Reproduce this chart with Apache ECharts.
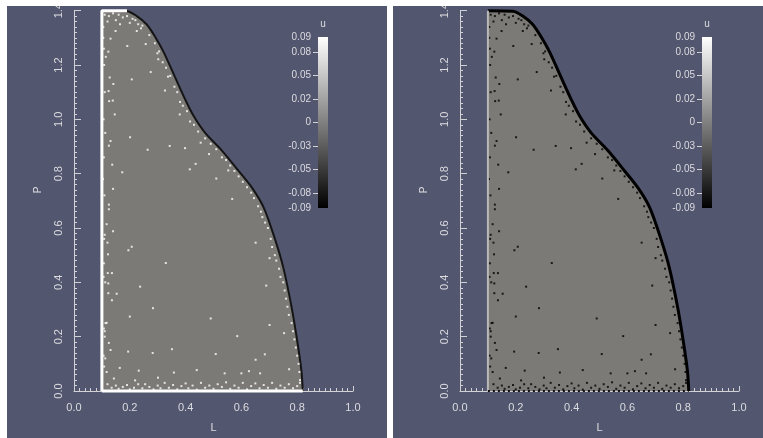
<!DOCTYPE html>
<html>
<head>
<meta charset="utf-8">
<script src="https://cdn.jsdelivr.net/npm/echarts@6/dist/echarts.min.js"></script>
<style>
  html, body { margin:0; padding:0; background:#ffffff; }
  #wrap { position:relative; width:763px; height:438px; overflow:hidden; }
  .bg { position:absolute; background:#52566f; }
  #chart { position:absolute; left:0; top:0; width:763px; height:438px; }
  #topstrip { position:absolute; left:0; top:0; width:763px; height:6px; background:#ffffff; z-index:5; }
</style>
</head>
<body>
<div id="wrap">
  <div class="bg" style="left:7px;top:6px;width:380px;height:432px;"></div>
  <div class="bg" style="left:393px;top:6px;width:370px;height:432px;"></div>
  <div id="chart"></div>
  <div id="topstrip"></div>
</div>
<script>
// Boundary of the domain (L, P)
const boundaryL = [0.1, 0.19, 0.225, 0.26, 0.29, 0.32, 0.36, 0.40, 0.43, 0.47, 0.53, 0.59, 0.64, 0.68, 0.72, 0.75, 0.78, 0.80, 0.815, 0.82];
const boundaryP = [1.4, 1.398, 1.38, 1.35, 1.305, 1.25, 1.16, 1.07, 1.01, 0.95, 0.885, 0.81, 0.745, 0.675, 0.56, 0.455, 0.308, 0.185, 0.075, 0];

// Scattered particles (L, P)
const dotsL = [
  0.149,0.131,0.225,0.191,0.257,0.123,0.299,0.302,0.275,0.207,0.128,0.141,0.337,0.326,0.124,0.126,0.139,0.146,0.380,0.379,0.416,0.201,0.131,0.125,0.264,0.343,0.398,0.415,0.137,0.173,0.140,
  0.11,0.125,0.14,0.16,0.175,0.19,0.21,0.12,0.15,0.2,0.23,0.24,0.165,
  0.105,0.108,0.11,0.106,0.112,0.107,0.104,0.109,0.117,0.11,0.108,0.107,0.106,0.112,0.113,0.107,0.11,0.11,0.106,0.112,0.108,0.117,0.105,0.107,0.114,
  0.22,0.245,0.27,0.29,0.305,0.318,0.33,0.345,0.36,0.37,0.39,0.405,0.43,0.445,0.47,0.49,0.51,0.53,0.545,0.56,0.575,0.59,0.605,0.62,0.635,0.645,0.66,0.67,0.675,0.685,0.695,0.705,0.71,0.72,0.725,0.735,0.74,0.75,0.755,0.76,0.765,0.77,0.78,0.785,0.79,0.795,0.8,0.805,0.808,0.81,
  0.454,0.484,0.436,0.51,0.553,0.567,0.651,0.701,0.689,0.49,0.701,0.585,0.753,0.508,0.684,0.651,0.44,0.627,0.6,0.54,0.667,0.771,
  0.125,0.125,0.14,0.12,0.207,0.195,0.122,0.329,0.121,0.136,0.123,0.237,0.153,0.123,0.136,0.283,0.2,0.117,0.125,0.131,0.194,0.282,0.351,0.164,0.232,0.358,0.301,0.143,0.219,
  0.12,0.135,0.15,0.16,0.175,0.19,0.2,0.215,0.23,0.245,0.255,0.27,0.285,0.3,0.31,0.325,0.34,0.355,0.37,0.385,0.4,0.41,0.425,0.44,0.455,0.47,0.485,0.5,0.515,0.53,0.545,0.56,0.575,0.59,0.605,0.62,0.635,0.65,0.665,0.68,0.695,0.71,0.725,0.74,0.755,0.77,0.785,0.8,0.81
];
const dotsP = [
  1.325,1.297,1.325,1.270,1.277,1.249,1.243,1.221,1.174,1.147,1.154,1.130,1.157,1.106,1.104,1.067,1.069,1.018,1.064,1.018,0.992,0.934,0.920,0.903,0.888,0.902,0.894,0.816,0.833,0.805,0.744,
  1.385,1.38,1.39,1.385,1.375,1.38,1.37,1.36,1.365,1.355,1.35,1.335,1.35,
  1.3,1.2,1.1,1.0,0.95,0.86,0.78,0.72,0.614,0.575,0.56,0.47,0.42,0.4,0.25,0.23,0.22,0.2,0.13,0.12,0.09,0.07,1.34,1.26,1.23,
  1.365,1.345,1.31,1.28,1.25,1.21,1.19,1.16,1.12,1.1,1.05,1.03,0.98,0.955,0.93,0.91,0.89,0.86,0.85,0.83,0.81,0.79,0.77,0.75,0.73,0.71,0.68,0.66,0.64,0.62,0.6,0.56,0.53,0.5,0.48,0.45,0.42,0.4,0.37,0.34,0.31,0.28,0.25,0.22,0.19,0.16,0.13,0.1,0.07,0.04,
  0.914,0.872,0.836,0.782,0.812,0.707,0.546,0.489,0.388,0.267,0.243,0.202,0.213,0.136,0.135,0.115,0.077,0.073,0.065,0.065,0.065,0.08,
  0.686,0.669,0.588,0.546,0.531,0.518,0.503,0.471,0.434,0.434,0.396,0.384,0.358,0.36,0.334,0.305,0.274,0.251,0.177,0.151,0.145,0.14,0.154,0.085,0.075,0.068,0.049,0.046,0.039,
  0.025,0.012,0.02,0.008,0.015,0.022,0.006,0.012,0.025,0.01,0.025,0.015,0.006,0.02,0.01,0.03,0.012,0.022,0.006,0.018,0.028,0.01,0.02,0.005,0.03,0.012,0.02,0.008,0.025,0.015,0.032,0.008,0.02,0.012,0.03,0.006,0.018,0.028,0.01,0.022,0.012,0.03,0.008,0.02,0.012,0.025,0.01,0.018,0.03
];

// Colour bar
const cbTitle = 'u';
const cbMin = -0.09, cbMax = 0.09;
const cbValues = [0.09, 0.0744, 0.0496, 0.0248, 0, -0.0248, -0.0496, -0.0744, -0.09];
const cbLabels = ['0.09', '0.08', '0.05', '0.02', '0', '-0.03', '-0.05', '-0.08', '-0.09'];

const xName = 'L', yName = 'P';
const xMin = 0, xMax = 1, xStep = 0.2;
const yMin = 0, yMax = 1.4, yStep = 0.2;

const FONT = 'Liberation Sans, Arial, sans-serif';
const AX = '#d2d2d6';
const LBL = '#dcdce0';
const FILL = '#7b7a76';

const boundary = boundaryL.map((l, i) => [l, boundaryP[i]]);
const dots = dotsL.map((l, i) => [l, dotsP[i]]);
const L0 = boundaryL[0], Lend = boundaryL[boundaryL.length - 1], Ptop = boundaryP[0];
const topFlatEnd = boundaryL[1];

function mainX(gi) {
  return {
    gridIndex: gi, type: 'value', min: xMin, max: xMax, interval: xStep,
    axisLine: { lineStyle: { color: AX, width: 1 } },
    axisTick: { inside: true, length: 5, lineStyle: { color: AX } },
    minorTick: { show: true, splitNumber: 10, length: 3, lineStyle: { color: AX } },
    splitLine: { show: false }, minorSplitLine: { show: false },
    axisLabel: { formatter: v => v.toFixed(1), color: LBL, fontSize: 11, fontFamily: FONT, margin: 11 },
    name: xName, nameLocation: 'middle', nameGap: 31,
    nameTextStyle: { color: LBL, fontSize: 11, fontFamily: FONT }
  };
}
function mainY(gi) {
  return {
    gridIndex: gi, type: 'value', min: yMin, max: yMax, interval: yStep,
    axisLine: { lineStyle: { color: AX, width: 1 } },
    axisTick: { inside: true, length: 7, lineStyle: { color: AX } },
    minorTick: { show: true, splitNumber: 10, length: 3, lineStyle: { color: AX } },
    splitLine: { show: false }, minorSplitLine: { show: false },
    axisLabel: { formatter: v => v.toFixed(1), color: LBL, fontSize: 11, fontFamily: FONT, margin: 10, rotate: 90 },
    name: yName, nameLocation: 'middle', nameGap: 31, nameRotate: 90,
    nameTextStyle: { color: LBL, fontSize: 10, fontFamily: FONT, padding: [0, 0, 0, 22] }
  };
}
function cbX(gi) {
  return {
    gridIndex: gi, type: 'category', data: [''], position: 'top',
    axisLine: { show: false }, axisTick: { show: false }, axisLabel: { show: false },
    name: cbTitle, nameLocation: 'middle', nameGap: 8,
    nameTextStyle: { color: LBL, fontSize: 10, fontFamily: FONT }
  };
}
function cbY(gi) {
  return {
    gridIndex: gi, type: 'value', min: cbMin, max: cbMax, position: 'left',
    axisLine: { show: false }, splitLine: { show: false },
    axisTick: { show: true, length: 5, customValues: cbValues.slice(1, -1), lineStyle: { color: AX } },
    axisLabel: {
      customValues: cbValues, margin: 7, color: LBL, fontSize: 10, fontFamily: FONT,
      formatter: v => { const i = cbValues.findIndex(c => Math.abs(c - v) < 1e-6); return i >= 0 ? cbLabels[i] : ''; }
    }
  };
}
function cbYHidden(gi) {
  return { gridIndex: gi, type: 'value', min: 0, max: 1, show: false };
}
const gradient = new echarts.graphic.LinearGradient(0, 0, 0, 1, [
  { offset: 0, color: '#ffffff' }, { offset: 0.5, color: '#808080' }, { offset: 1, color: '#000000' }
]);

const option = {
  backgroundColor: 'transparent',
  animation: false,
  grid: [
    { left: 74, top: 7, width: 279, height: 390 },
    { left: 460, top: 7, width: 279, height: 390 },
    { left: 318, top: 37, width: 10, height: 171 },
    { left: 702, top: 37, width: 10, height: 171 }
  ],
  xAxis: [mainX(0), mainX(1), cbX(2), cbX(3)],
  yAxis: [mainY(0), mainY(1), cbY(2), cbY(3), cbYHidden(2), cbYHidden(3)],
  series: [
    // ---- left panel
    { type: 'line', xAxisIndex: 0, yAxisIndex: 0, data: boundary, smooth: 0.3, symbol: 'none', clip: false,
      lineStyle: { color: '#151515', width: 2 }, areaStyle: { color: FILL, opacity: 1 }, z: 2 },
    { type: 'scatter', xAxisIndex: 0, yAxisIndex: 0, data: dots, symbol: 'rect', symbolSize: 2,
      itemStyle: { color: '#ffffff' }, z: 3 },
    { type: 'line', xAxisIndex: 0, yAxisIndex: 0, data: [[L0, 0], [L0, Ptop], [topFlatEnd, Ptop]], symbol: 'none', clip: false,
      lineStyle: { color: '#ffffff', width: 3 }, z: 4 },
    { type: 'line', xAxisIndex: 0, yAxisIndex: 0, data: [[L0, 0], [Lend, 0]], symbol: 'none', clip: false,
      lineStyle: { color: '#ffffff', width: 3 }, z: 4 },
    // ---- right panel
    { type: 'line', xAxisIndex: 1, yAxisIndex: 1, data: boundary, smooth: 0.3, symbol: 'none', clip: false,
      lineStyle: { color: '#000000', width: 3 }, areaStyle: { color: FILL, opacity: 1 }, z: 2 },
    { type: 'scatter', xAxisIndex: 1, yAxisIndex: 1, data: dots, symbol: 'rect', symbolSize: 2,
      itemStyle: { color: '#000000' }, z: 3 },
    { type: 'line', xAxisIndex: 1, yAxisIndex: 1, data: [[L0, 0], [L0, Ptop]], symbol: 'none', clip: false,
      lineStyle: { color: '#b8b8b8', width: 2 }, z: 4 },
    { type: 'line', xAxisIndex: 1, yAxisIndex: 1, data: [[L0, 0], [Lend, 0]], symbol: 'none', clip: false,
      lineStyle: { color: '#111111', width: 2, type: [2, 3] }, z: 4 },
    // ---- colour bars
    { type: 'bar', xAxisIndex: 2, yAxisIndex: 4, data: [1], barWidth: '100%', itemStyle: { color: gradient }, silent: true },
    { type: 'bar', xAxisIndex: 3, yAxisIndex: 5, data: [1], barWidth: '100%', itemStyle: { color: gradient }, silent: true }
  ]
};
const chart = echarts.init(document.getElementById('chart'), null, { renderer: 'canvas' });
chart.setOption(option);
</script>
</body>
</html>
